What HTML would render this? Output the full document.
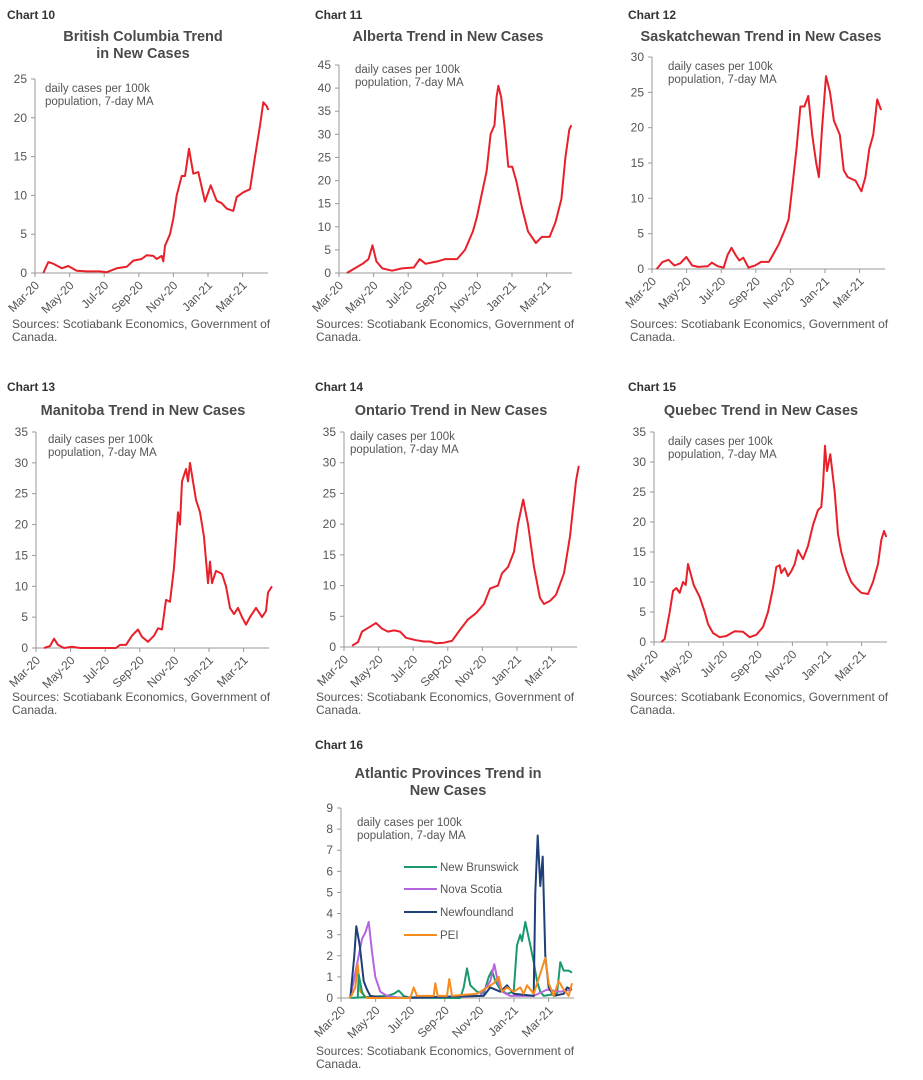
<!DOCTYPE html>
<html><head><meta charset="utf-8"><style>
html,body{margin:0;padding:0;background:#fff;}
svg{display:block;font-family:"Liberation Sans",Arial,sans-serif;}
.cl{font-size:12px;font-weight:bold;fill:#333;}
.ti{font-size:14.5px;font-weight:bold;fill:#4a4a4a;text-anchor:middle;}
.yl{font-size:12px;fill:#555;text-anchor:end;}
.xl{font-size:12px;fill:#555;text-anchor:end;}
.an{font-size:11.5px;fill:#555;}
.so{font-size:12px;fill:#555;}
.ax{stroke:#999;stroke-width:1;fill:none;}
</style></head><body>
<svg id="s" width="923" height="1080" viewBox="0 0 923 1080">
<text class="cl" x="7" y="19">Chart 10</text>
<text class="ti" x="143" y="41">British Columbia Trend</text>
<text class="ti" x="143" y="58">in New Cases</text>
<text class="cl" x="315" y="19">Chart 11</text>
<text class="ti" x="448" y="41">Alberta Trend in New Cases</text>
<text class="cl" x="628" y="19">Chart 12</text>
<text class="ti" x="761" y="41">Saskatchewan Trend in New Cases</text>
<text class="cl" x="7" y="391">Chart 13</text>
<text class="ti" x="143" y="415">Manitoba Trend in New Cases</text>
<text class="cl" x="315" y="391">Chart 14</text>
<text class="ti" x="451" y="415">Ontario Trend in New Cases</text>
<text class="cl" x="628" y="391">Chart 15</text>
<text class="ti" x="761" y="415">Quebec Trend in New Cases</text>
<text class="cl" x="315" y="749">Chart 16</text>
<text class="ti" x="448" y="778">Atlantic Provinces Trend in</text>
<text class="ti" x="448" y="795">New Cases</text>

<text class="so" x="12" y="328">Sources: Scotiabank Economics, Government of</text><text class="so" x="12" y="341">Canada.</text>
<text class="so" x="316" y="328">Sources: Scotiabank Economics, Government of</text><text class="so" x="316" y="341">Canada.</text>
<text class="so" x="630" y="328">Sources: Scotiabank Economics, Government of</text><text class="so" x="630" y="341">Canada.</text>
<text class="so" x="12" y="701">Sources: Scotiabank Economics, Government of</text><text class="so" x="12" y="714">Canada.</text>
<text class="so" x="316" y="701">Sources: Scotiabank Economics, Government of</text><text class="so" x="316" y="714">Canada.</text>
<text class="so" x="630" y="701">Sources: Scotiabank Economics, Government of</text><text class="so" x="630" y="714">Canada.</text>
<text class="so" x="316" y="1055">Sources: Scotiabank Economics, Government of</text><text class="so" x="316" y="1068">Canada.</text>

<g id="c10" transform="translate(35,273)">
<text class="yl" x="-8" y="4">0</text><text class="yl" x="-8" y="-34.8">5</text><text class="yl" x="-8" y="-73.6">10</text><text class="yl" x="-8" y="-112.4">15</text><text class="yl" x="-8" y="-151.2">20</text><text class="yl" x="-8" y="-190">25</text>
<text class="an" x="10" y="-181">daily cases per 100k</text><text class="an" x="10" y="-168">population, 7-day MA</text>
<text class="xl" transform="translate(5,13) rotate(-45)">Mar-20</text><text class="xl" transform="translate(39.6,13) rotate(-45)">May-20</text><text class="xl" transform="translate(74.2,13) rotate(-45)">Jul-20</text><text class="xl" transform="translate(108.8,13) rotate(-45)">Sep-20</text><text class="xl" transform="translate(143.4,13) rotate(-45)">Nov-20</text><text class="xl" transform="translate(178,13) rotate(-45)">Jan-21</text><text class="xl" transform="translate(212.6,13) rotate(-45)">Mar-21</text>
</g>
<g id="c11" transform="translate(339,273)">
<text class="yl" x="-8" y="4">0</text><text class="yl" x="-8" y="-19.1">5</text><text class="yl" x="-8" y="-42.2">10</text><text class="yl" x="-8" y="-65.3">15</text><text class="yl" x="-8" y="-88.4">20</text><text class="yl" x="-8" y="-111.6">25</text><text class="yl" x="-8" y="-134.7">30</text><text class="yl" x="-8" y="-157.8">35</text><text class="yl" x="-8" y="-180.9">40</text><text class="yl" x="-8" y="-204">45</text>
<text class="an" x="16" y="-200">daily cases per 100k</text><text class="an" x="16" y="-187">population, 7-day MA</text>
<text class="xl" transform="translate(5,13) rotate(-45)">Mar-20</text><text class="xl" transform="translate(39.6,13) rotate(-45)">May-20</text><text class="xl" transform="translate(74.2,13) rotate(-45)">Jul-20</text><text class="xl" transform="translate(108.8,13) rotate(-45)">Sep-20</text><text class="xl" transform="translate(143.4,13) rotate(-45)">Nov-20</text><text class="xl" transform="translate(178,13) rotate(-45)">Jan-21</text><text class="xl" transform="translate(212.6,13) rotate(-45)">Mar-21</text>
</g>
<g id="c12" transform="translate(652,269)">
<text class="yl" x="-8" y="4">0</text><text class="yl" x="-8" y="-31.3">5</text><text class="yl" x="-8" y="-66.7">10</text><text class="yl" x="-8" y="-102">15</text><text class="yl" x="-8" y="-137.3">20</text><text class="yl" x="-8" y="-172.7">25</text><text class="yl" x="-8" y="-208">30</text>
<text class="an" x="16" y="-199">daily cases per 100k</text><text class="an" x="16" y="-186">population, 7-day MA</text>
<text class="xl" transform="translate(5,13) rotate(-45)">Mar-20</text><text class="xl" transform="translate(39.6,13) rotate(-45)">May-20</text><text class="xl" transform="translate(74.2,13) rotate(-45)">Jul-20</text><text class="xl" transform="translate(108.8,13) rotate(-45)">Sep-20</text><text class="xl" transform="translate(143.4,13) rotate(-45)">Nov-20</text><text class="xl" transform="translate(178,13) rotate(-45)">Jan-21</text><text class="xl" transform="translate(212.6,13) rotate(-45)">Mar-21</text>
</g>
<g id="c13" transform="translate(36,648)">
<text class="yl" x="-8" y="4">0</text><text class="yl" x="-8" y="-26.9">5</text><text class="yl" x="-8" y="-57.7">10</text><text class="yl" x="-8" y="-88.6">15</text><text class="yl" x="-8" y="-119.4">20</text><text class="yl" x="-8" y="-150.3">25</text><text class="yl" x="-8" y="-181.1">30</text><text class="yl" x="-8" y="-212">35</text>
<text class="an" x="12" y="-205">daily cases per 100k</text><text class="an" x="12" y="-192">population, 7-day MA</text>
<text class="xl" transform="translate(5,13) rotate(-45)">Mar-20</text><text class="xl" transform="translate(39.6,13) rotate(-45)">May-20</text><text class="xl" transform="translate(74.2,13) rotate(-45)">Jul-20</text><text class="xl" transform="translate(108.8,13) rotate(-45)">Sep-20</text><text class="xl" transform="translate(143.4,13) rotate(-45)">Nov-20</text><text class="xl" transform="translate(178,13) rotate(-45)">Jan-21</text><text class="xl" transform="translate(212.6,13) rotate(-45)">Mar-21</text>
</g>
<g id="c14" transform="translate(344,647)">
<text class="yl" x="-8" y="4">0</text><text class="yl" x="-8" y="-26.7">5</text><text class="yl" x="-8" y="-57.4">10</text><text class="yl" x="-8" y="-88.1">15</text><text class="yl" x="-8" y="-118.9">20</text><text class="yl" x="-8" y="-149.6">25</text><text class="yl" x="-8" y="-180.3">30</text><text class="yl" x="-8" y="-211">35</text>
<text class="an" x="6" y="-207">daily cases per 100k</text><text class="an" x="6" y="-194">population, 7-day MA</text>
<text class="xl" transform="translate(5,13) rotate(-45)">Mar-20</text><text class="xl" transform="translate(39.6,13) rotate(-45)">May-20</text><text class="xl" transform="translate(74.2,13) rotate(-45)">Jul-20</text><text class="xl" transform="translate(108.8,13) rotate(-45)">Sep-20</text><text class="xl" transform="translate(143.4,13) rotate(-45)">Nov-20</text><text class="xl" transform="translate(178,13) rotate(-45)">Jan-21</text><text class="xl" transform="translate(212.6,13) rotate(-45)">Mar-21</text>
</g>
<g id="c15" transform="translate(654,642)">
<text class="yl" x="-8" y="4">0</text><text class="yl" x="-8" y="-26">5</text><text class="yl" x="-8" y="-56">10</text><text class="yl" x="-8" y="-86">15</text><text class="yl" x="-8" y="-116">20</text><text class="yl" x="-8" y="-146">25</text><text class="yl" x="-8" y="-176">30</text><text class="yl" x="-8" y="-206">35</text>
<text class="an" x="14" y="-197">daily cases per 100k</text><text class="an" x="14" y="-184">population, 7-day MA</text>
<text class="xl" transform="translate(5,13) rotate(-45)">Mar-20</text><text class="xl" transform="translate(39.6,13) rotate(-45)">May-20</text><text class="xl" transform="translate(74.2,13) rotate(-45)">Jul-20</text><text class="xl" transform="translate(108.8,13) rotate(-45)">Sep-20</text><text class="xl" transform="translate(143.4,13) rotate(-45)">Nov-20</text><text class="xl" transform="translate(178,13) rotate(-45)">Jan-21</text><text class="xl" transform="translate(212.6,13) rotate(-45)">Mar-21</text>
</g>
<g id="c16" transform="translate(341,998)">
<text class="yl" x="-8" y="4">0</text><text class="yl" x="-8" y="-17.1">1</text><text class="yl" x="-8" y="-38.2">2</text><text class="yl" x="-8" y="-59.3">3</text><text class="yl" x="-8" y="-80.4">4</text><text class="yl" x="-8" y="-101.6">5</text><text class="yl" x="-8" y="-122.7">6</text><text class="yl" x="-8" y="-143.8">7</text><text class="yl" x="-8" y="-164.9">8</text><text class="yl" x="-8" y="-186">9</text>
<text class="an" x="16" y="-172">daily cases per 100k</text><text class="an" x="16" y="-159">population, 7-day MA</text>
<text class="xl" transform="translate(5,13) rotate(-45)">Mar-20</text><text class="xl" transform="translate(39.6,13) rotate(-45)">May-20</text><text class="xl" transform="translate(74.2,13) rotate(-45)">Jul-20</text><text class="xl" transform="translate(108.8,13) rotate(-45)">Sep-20</text><text class="xl" transform="translate(143.4,13) rotate(-45)">Nov-20</text><text class="xl" transform="translate(178,13) rotate(-45)">Jan-21</text><text class="xl" transform="translate(212.6,13) rotate(-45)">Mar-21</text>
</g>
<g class="an" font-size="12">
<line x1="404" y1="867" x2="437" y2="867" stroke="#1a9a6a" stroke-width="2"/><text x="440" y="871" class="an">New Brunswick</text>
<line x1="404" y1="889" x2="437" y2="889" stroke="#b565e0" stroke-width="2"/><text x="440" y="893" class="an">Nova Scotia</text>
<line x1="404" y1="912" x2="437" y2="912" stroke="#1f3f77" stroke-width="2"/><text x="440" y="916" class="an">Newfoundland</text>
<line x1="404" y1="935" x2="437" y2="935" stroke="#f68b1f" stroke-width="2"/><text x="440" y="939" class="an">PEI</text>
</g>
</svg>
<script>
var NS="http://www.w3.org/2000/svg";
function el(g,t,a){var e=document.createElementNS(NS,t);for(var k in a)e.setAttribute(k,a[k]);g.appendChild(e);return e;}
function axes(id,H,step,n){var g=document.getElementById(id);
 el(g,"line",{x1:0,y1:0,x2:0,y2:-H,"class":"ax"});el(g,"line",{x1:0,y1:0,x2:233,y2:0,"class":"ax"});
 for(var i=0;i<=n;i++)el(g,"line",{x1:-4,y1:-i*step,x2:0,y2:-i*step,"class":"ax"});
 for(var j=0;j<=6;j++)el(g,"line",{x1:j*34.6,y1:0,x2:j*34.6,y2:4,"class":"ax"});}
function line(id,pts,a,s,k,col){var g=document.getElementById(id);var d="";
 pts.forEach(function(p,i){d+=(i?"L":"M")+((p[0]-a)/s).toFixed(1)+","+(-p[1]*k).toFixed(1);});
 el(g,"path",{d:d,fill:"none",stroke:col,"stroke-width":2,"stroke-linejoin":"round"});}
var R="#e8202a";
axes("c10",194,38.8,5);axes("c11",208,23.11,9);axes("c12",212,35.33,6);axes("c13",216,30.86,7);axes("c14",215,30.71,7);axes("c15",210,30,7);axes("c16",190,21.11,9);
line("c10",[[130,0],[145,1.4],[160,1.2],[185,0.6],[205,0.9],[230,0.3],[260,0.2],[300,0.2],[320,0.1],[350,0.6],[380,0.8],[400,1.6],[425,1.8],[440,2.3],[460,2.2],[470,1.8],[485,2.2],[490,1.5],[495,3.5],[510,5],[520,7],[530,10],[545,12.5],[555,12.5],[567,16],[580,12.8],[595,13],[615,9.2],[632,11.3],[650,9.3],[665,9],[680,8.3],[700,8],[710,9.8],[730,10.4],[750,10.8],[765,15],[780,19],[790,22],[800,21.5],[805,21]],105,3,7.76,R);
line("c11",[[120,0],[140,1],[160,2],[175,3],[185,6],[195,2.5],[210,1],[235,0.5],[260,1],[290,1.2],[305,3],[320,2],[350,2.5],[370,3],[400,3],[420,5],[440,9],[450,12],[460,16],[475,22],[485,30],[495,32],[500,38],[505,40.5],[512,38],[520,32],[530,23],[540,23],[550,20],[565,14],[580,9],[600,6.5],[615,7.8],[635,7.8],[650,11],[665,16],[675,25],[685,31],[690,32]],100,2.54,4.622,R);
line("c12",[[915,0],[930,1],[945,1.3],[960,0.5],[975,0.8],[990,1.7],[1005,0.5],[1020,0.3],[1045,0.4],[1055,0.9],[1070,0.4],[1085,0.2],[1095,2],[1105,3],[1115,2],[1125,1.2],[1135,1.6],[1148,0.2],[1165,0.5],[1180,1],[1200,1],[1210,2],[1225,3.5],[1240,5.5],[1250,7],[1260,12],[1270,17],[1280,23],[1290,23],[1300,24.5],[1310,19],[1320,15],[1327,13],[1335,20],[1345,27.3],[1355,25],[1365,21],[1380,19],[1390,14],[1400,13],[1420,12.5],[1435,11],[1445,13],[1455,17],[1465,19],[1475,24],[1485,22.5]],903,2.54,7.067,R);
line("c13",[[110,0],[125,0.3],[135,1.5],[145,0.5],[160,0],[180,0.2],[200,0],[290,0],[300,0.5],[315,0.5],[330,2],[345,3],[355,1.8],[370,1],[385,2],[395,3.2],[405,3],[415,7.8],[425,7.5],[435,13],[445,22],[450,20],[455,27],[465,29],[470,27],[475,30],[480,28],[490,24],[500,22],[510,18],[520,10.5],[525,14],[530,10.5],[540,12.5],[555,12],[565,10],[575,6.5],[585,5.5],[595,6.5],[605,5],[615,3.8],[625,5],[640,6.5],[655,5],[665,6],[670,9],[680,10]],90,2.5,6.171,R);
line("c14",[[880,0.2],[895,0.8],[905,2.5],[925,3.3],[940,3.9],[955,3],[970,2.5],[985,2.7],[1000,2.5],[1015,1.5],[1040,1.1],[1060,0.9],[1075,0.9],[1090,0.6],[1110,0.7],[1130,1],[1150,2.8],[1170,4.5],[1190,5.5],[1210,7],[1225,9.5],[1245,10],[1255,12],[1270,13],[1285,15.5],[1295,20],[1308,24],[1320,20],[1335,13],[1350,8],[1360,7],[1375,7.5],[1390,8.5],[1410,12],[1425,18],[1440,27],[1447,29.5]],860,2.5,6.143,R);
line("c15",[[125,0],[135,0.5],[150,5],[160,8.5],[170,9],[180,8.2],[190,10],[198,9.5],[205,13],[215,11],[222,9.5],[240,7.5],[255,5],[265,3],[280,1.5],[300,0.8],[320,1],[345,1.8],[370,1.7],[390,0.8],[410,1.2],[430,2.5],[445,5],[460,9],[470,12.5],[480,12.8],[485,11.5],[495,12.3],[505,11],[515,11.8],[525,13],[535,15.3],[550,13.8],[565,16],[580,19.5],[595,22],[605,22.5],[610,26],[616,32.7],[622,28.5],[632,31.3],[645,25],[655,18],[665,15],[680,12],[695,10],[710,9],[725,8.2],[745,8],[760,10],[775,13],[785,17],[793,18.5],[800,17.5]],103,3,6,R);
var K=21.11;
line("c16",[[150,0],[260,0.1],[280,0.2],[295,0.35],[310,0.1],[330,0],[480,0],[490,0.5],[500,1.4],[510,0.6],[530,0.3],[550,0.2],[565,1],[575,1.3],[585,0.8],[600,0.4],[620,0.2],[640,0.3],[650,2.5],[660,3],[665,2.7],[675,3.6],[690,2.5],[700,1.7],[710,0.8],[720,0.3],[730,0.1],[770,0.2],[780,1.7],[790,1.3],[805,1.3],[815,1.2]],122,3,K,"#1a9a6a");
line("c16",[[150,0],[175,2],[185,2.8],[195,3.1],[205,3.6],[215,2.2],[225,1],[240,0.3],[260,0.1],[300,0],[540,0.1],[570,0.8],[582,1.6],[592,0.8],[605,0.3],[630,0.1],[700,0.1],[740,0.4],[780,0.3],[815,0.4]],122,3,K,"#b565e0");
line("c16",[[150,0],[162,2],[168,3.4],[178,2.5],[190,0.8],[200,0.4],[210,0.1],[260,0],[550,0.1],[570,0.5],[600,0.3],[620,0.6],[640,0.2],[700,0.1],[705,5],[712,7.7],[720,5.3],[727,6.7],[735,2],[745,0.5],[760,0.1],[790,0.2],[800,0.5],[815,0.4]],122,3,K,"#1f3f77");
line("c16",[[150,0],[165,0.5],[172,1.6],[180,0.3],[200,0],[330,0],[340,0.5],[350,0.1],[400,0.1],[405,0.7],[412,0.1],[440,0.1],[447,0.9],[455,0.1],[530,0.2],[580,0.7],[595,1],[605,0.3],[620,0.5],[640,0.3],[660,0.5],[670,0.2],[680,0.6],[700,0.2],[735,1.9],[745,0.7],[760,0.1],[775,0.8],[790,0.4],[805,0.1],[815,0.7]],122,3,K,"#f68b1f");
line("c16",[[172,0],[175,1.1],[185,0.3],[195,0]],122,3,K,"#1a9a6a");
</script>
</body></html>
